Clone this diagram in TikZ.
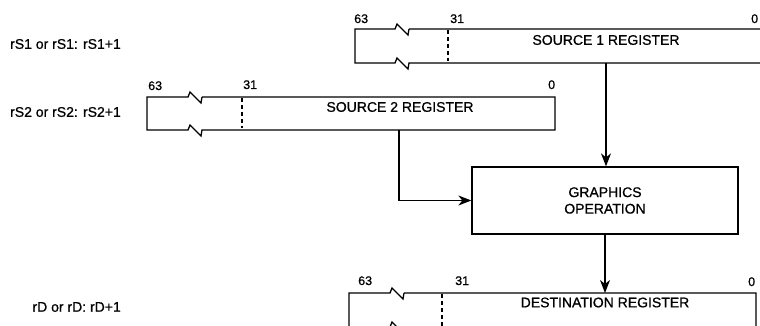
\documentclass[tikz,border=0pt]{standalone}
\usepackage{fontspec}
\setmainfont{Liberation Sans}[FakeBold=0.8]
\usetikzlibrary{arrows.meta}
\tikzset{
  outline/.style={line width=1.3pt, line join=miter},
  dashsep/.style={line width=1.3pt, dash pattern=on 4pt off 3pt},
  regtext/.style={inner sep=0pt, font=\fontsize{14}{16.5}\selectfont},
  bitlabel/.style={inner sep=0pt, anchor=base west, font=\fontsize{12.5}{14}\selectfont},
  sidelabel/.style={inner sep=0pt, anchor=east, font=\fontsize{14}{16.5}\selectfont},
  opbox/.style={draw, line width=1.3pt, inner sep=0pt, align=center, font=\fontsize{14}{16.5}\selectfont},
  arr/.style={line width=1.3pt, -{Stealth[length=13pt, width=10pt, inset=4pt]}}
}
% \regoutline{left}{right}{top}{bottom}{zig x}
\newcommand{\regoutline}[5]{%
  \draw[outline] ({#5+14},#3) -- (#2,#3) -- (#2,#4) -- ({#5+14},#4) -- ({#5+13},{#4+6}) -- ({#5+2},{#4-5}) -- (#5,#4) -- (#1,#4) -- (#1,#3) -- (#5,#3) -- ({#5+2},{#3-5}) -- ({#5+13},{#3+6}) -- ({#5+14},#3);%
}
\begin{document}
\begin{tikzpicture}[x=1pt, y=-1pt]
\useasboundingbox (0,0) rectangle (760,326);

% Source 1 register
\regoutline{355}{762}{29}{63}{395}
\draw[dashsep] (448,30) -- (448,61);
\node[regtext] (s1t) at (606,40) {SOURCE 1 REGISTER};
\coordinate (s1b) at (606,63);
\node[bitlabel] (s1a) at (354,23) {63};
\node[bitlabel] (s1m) at (450,23) {31};
\node[bitlabel] (s1z) at (751,23) {0};
\node[sidelabel] (l1) at (121,44) {rS1 or rS1: rS1+1};

% Source 2 register
\regoutline{147}{555}{97}{130}{188}
\draw[dashsep] (242,98) -- (242,128);
\node[regtext] (s2t) at (400,107) {SOURCE 2 REGISTER};
\coordinate (s2b) at (399,130);
\node[bitlabel] (s2a) at (148,90) {63};
\node[bitlabel] (s2m) at (243,89) {31};
\node[bitlabel] (s2z) at (548,89) {0};
\node[sidelabel] (l2) at (121,112) {rS2 or rS2: rS2+1};

% Graphics operation
\node[opbox, minimum width=266pt, minimum height=67pt] (gop) at (605,200.5) {GRAPHICS\\OPERATION};

% Destination register
\regoutline{349}{756}{293}{327}{390}
\draw[dashsep] (442,294) -- (442,326);
\node[regtext] (dt) at (605,302.5) {DESTINATION REGISTER};
\coordinate (dtop) at (605,293);
\node[bitlabel] (da) at (358,285) {63};
\node[bitlabel] (dm) at (455,285) {31};
\node[bitlabel] (dz) at (748,286) {0};
\node[sidelabel] (l3) at (121,307) {rD or rD: rD+1};

% Connectors
\draw[arr] (s1b) -- (s1b |- gop.north);
\draw[arr] (s2b) |- (gop.west);
\draw[arr] (gop.south) -- (dtop);
\end{tikzpicture}
\end{document}
